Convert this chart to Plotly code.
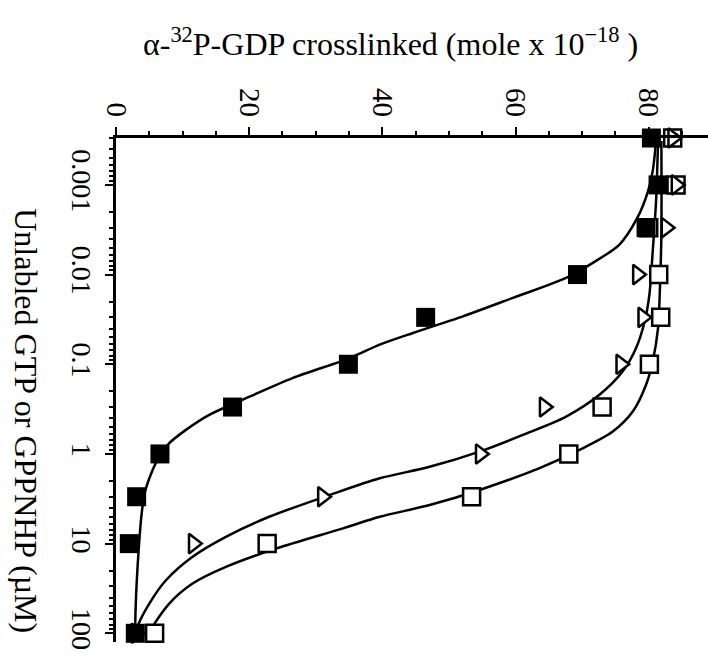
import plotly.graph_objects as go

# Nucleotide concentrations (µM) at which crosslinking was measured
conc = [0.0003, 0.001, 0.003, 0.01, 0.03, 0.1, 0.3, 1, 3, 10, 100]

# α-32P-GDP crosslinked (mole x 10^-18) for each competitor series
filled_sq = [80.4, 81.4, 79.6, 69.3, 46.5, 34.9, 17.5, 6.6, 3.1, 2.0, 2.9]
open_tri = [83.6, 84.1, 82.6, 78.3, 79.1, 75.8, 64.3, 54.7, 31.0, 11.6, 3.0]
open_sq = [83.6, 84.1, 80.0, 81.5, 81.8, 80.1, 73.0, 68.0, 53.4, 22.7, 5.8]

# Fitted displacement curves (concentration, amount crosslinked)
fit_filled_conc = [0.000324, 0.0007, 0.00117, 0.00232, 0.00462, 0.0074,
                   0.0109, 0.0182, 0.0292, 0.0448, 0.0605, 0.0853, 0.1426,
                   0.249, 0.367, 0.539, 0.759, 1.07, 1.64, 2.75, 5.02,
                   11.8, 27.9, 71.6, 100]
fit_filled_val = [81.1, 80.6, 79.9, 78.3, 75.6, 71.6,
                  67.6, 59.6, 52.1, 44.6, 39.6, 35.1, 26.5,
                  19.0, 14.0, 10.5, 8.0, 6.5, 5.3, 4.3, 3.8,
                  3.4, 3.1, 2.9, 2.9]

fit_tri_conc = [0.000324, 0.00152, 0.0055, 0.0167, 0.0332, 0.0659, 0.120,
                0.219, 0.383, 0.613, 0.942, 1.39, 1.87, 2.87, 5.02, 8.4,
                14.0, 25.6, 46.6, 81.4, 100]
fit_tri_val = [81.4, 81.1, 80.6, 80.1, 79.4, 78.1, 76.1,
               72.6, 67.6, 61.1, 54.6, 47.1, 39.6, 32.1, 23.0, 16.5,
               11.5, 7.5, 5.0, 3.3, 3.0]

fit_sq_conc = [0.000324, 0.00357, 0.0129, 0.0394, 0.0931, 0.169, 0.337,
               0.563, 0.902, 1.44, 2.52, 3.71, 5.02, 6.76, 11.3, 18.2,
               27.9, 46.6, 84.9, 100]
fit_sq_val = [81.9, 81.9, 81.7, 81.4, 80.6, 79.6, 77.6,
              74.6, 69.6, 63.6, 54.6, 47.1, 39.6, 34.1, 24.1, 16.5,
              11.5, 8.0, 5.5, 5.2]

# Axis ticks
x_ticks = [0, 20, 40, 60, 80]
y_ticks = [0.001, 0.01, 0.1, 1, 10, 100]
y_ticktext = ["0.001", "0.01", "0.1", "1", "10", "100"]
y_minor = [m * 10.0 ** e for e in range(-4, 3) for m in range(2, 10)
           if 0.0003 <= m * 10.0 ** e <= 120]

FONT = "Liberation Serif"
INK = "black"

fig = go.Figure()

line_style = dict(color=INK, width=2.5, shape="spline", smoothing=0.8)
for cx, vx in [(fit_filled_conc, fit_filled_val),
               (fit_tri_conc, fit_tri_val),
               (fit_sq_conc, fit_sq_val)]:
    fig.add_trace(go.Scatter(x=vx, y=cx, mode="lines", line=line_style,
                             cliponaxis=False, showlegend=False,
                             hoverinfo="skip"))

fig.add_trace(go.Scatter(
    x=open_sq, y=conc, mode="markers", cliponaxis=False, showlegend=False,
    marker=dict(symbol="square", size=17, color="white",
                line=dict(color=INK, width=2.5))))
fig.add_trace(go.Scatter(
    x=open_tri, y=conc, mode="markers", cliponaxis=False, showlegend=False,
    marker=dict(symbol="triangle-right", size=17, color="white",
                line=dict(color=INK, width=2.5))))
fig.add_trace(go.Scatter(
    x=filled_sq, y=conc, mode="markers", cliponaxis=False, showlegend=False,
    marker=dict(symbol="square", size=19, color=INK,
                line=dict(color=INK, width=0))))

fig.update_layout(
    width=708, height=660,
    margin=dict(l=116, r=0, t=138, b=18),
    paper_bgcolor="white", plot_bgcolor="white",
    font=dict(family=FONT, color=INK, size=29),
    xaxis=dict(
        side="top", range=[0, 88.9], showgrid=False, zeroline=False,
        showline=True, linecolor=INK, linewidth=2.5,
        ticks="outside", ticklen=8, tickwidth=2, tickcolor=INK,
        tickvals=x_ticks, ticktext=[str(v) for v in x_ticks],
        tickangle=90, tickfont=dict(family=FONT, size=29),
        minor=dict(dtick=5, tick0=0, ticks="outside", ticklen=4,
                   tickwidth=2, tickcolor=INK, showgrid=False),
    ),
    yaxis=dict(
        type="log", range=[2.097, -3.523], showgrid=False, zeroline=False,
        showline=True, linecolor=INK, linewidth=2.5,
        ticks="outside", ticklen=8, tickwidth=2, tickcolor=INK,
        tickvals=y_ticks, ticktext=y_ticktext,
        tickangle=90, tickfont=dict(family=FONT, size=28),
        minor=dict(tickvals=y_minor, ticks="outside", ticklen=4,
                   tickwidth=1.5, tickcolor=INK, showgrid=False),
    ),
    annotations=[
        dict(text="α-<sup>32</sup>P-GDP crosslinked (mole x 10<sup>−18</sup> )",
             xref="paper", yref="paper", x=0.463, y=1.19,
             xanchor="center", yanchor="middle", showarrow=False,
             font=dict(family=FONT, size=32, color=INK)),
        dict(text="Unlabled GTP or GPPNHP (µM)",
             xref="paper", yref="paper", x=-0.152, y=0.44,
             xanchor="center", yanchor="middle", showarrow=False,
             textangle=90, font=dict(family=FONT, size=32, color=INK)),
    ],
)

fig.write_html("out.html")
